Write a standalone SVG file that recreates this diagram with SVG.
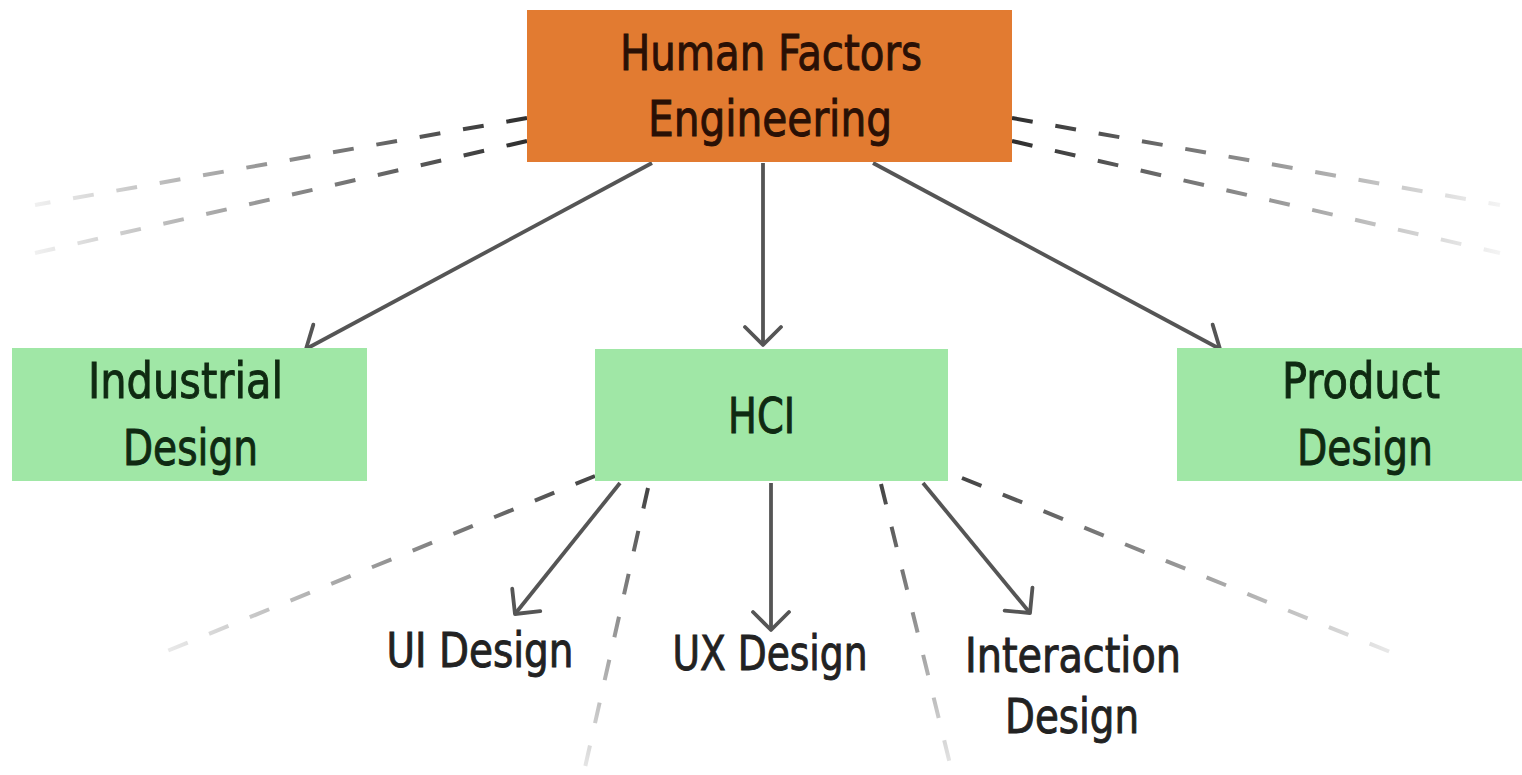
<svg xmlns="http://www.w3.org/2000/svg" width="1522" height="775" viewBox="0 0 1522 775">
  <style>
    .label { font-family: "DejaVu Sans", "Liberation Sans", sans-serif; font-stretch: condensed; font-size: 50px; text-anchor: middle; stroke-width: 0.9px; }
    .hfe { fill: #E27B31; }
    .hfe-text { fill: #2a1005; stroke: #2a1005; }
    .box { fill: #A0E7A6; }
    .box-text { fill: #0f2a12; stroke: #0f2a12; }
    .leaf-text { fill: #222222; stroke: #222222; font-size: 48px; }
    .arrow { fill: none; stroke: #555555; stroke-width: 3.8; marker-end: url(#arrowhead); }
    .dash { fill: none; stroke-width: 4; stroke-dasharray: 21 23; }
  </style>
  <defs>
    <marker id="arrowhead" viewBox="-22 -22 26 44" refX="0" refY="0" markerWidth="26" markerHeight="44" markerUnits="userSpaceOnUse" orient="auto">
      <path d="M-18,-18 L0,0 L-18,18" fill="none" stroke="#555555" stroke-width="3.8" stroke-linecap="round" stroke-linejoin="round"/>
    </marker>
    <!-- fading strokes for the dashed "related field" lines -->
    <linearGradient id="fadeTL1" gradientUnits="userSpaceOnUse" x1="527" y1="118" x2="35" y2="205">
      <stop offset="0" stop-color="#2e2e2e"/><stop offset="1" stop-color="#f0f0f0"/>
    </linearGradient>
    <linearGradient id="fadeTL2" gradientUnits="userSpaceOnUse" x1="527" y1="141" x2="35" y2="253">
      <stop offset="0" stop-color="#2e2e2e"/><stop offset="1" stop-color="#f0f0f0"/>
    </linearGradient>
    <linearGradient id="fadeTR1" gradientUnits="userSpaceOnUse" x1="1012" y1="118" x2="1500" y2="205">
      <stop offset="0" stop-color="#2e2e2e"/><stop offset="1" stop-color="#f4f4f4"/>
    </linearGradient>
    <linearGradient id="fadeTR2" gradientUnits="userSpaceOnUse" x1="1012" y1="141" x2="1500" y2="253">
      <stop offset="0" stop-color="#2e2e2e"/><stop offset="1" stop-color="#f4f4f4"/>
    </linearGradient>
    <linearGradient id="fadeBL1" gradientUnits="userSpaceOnUse" x1="595" y1="476" x2="150" y2="658">
      <stop offset="0" stop-color="#444444"/><stop offset="1" stop-color="#f0f0f0"/>
    </linearGradient>
    <linearGradient id="fadeBL2" gradientUnits="userSpaceOnUse" x1="648" y1="488" x2="584" y2="772">
      <stop offset="0" stop-color="#444444"/><stop offset="1" stop-color="#e8e8e8"/>
    </linearGradient>
    <linearGradient id="fadeBR2" gradientUnits="userSpaceOnUse" x1="881" y1="484" x2="952" y2="772">
      <stop offset="0" stop-color="#444444"/><stop offset="1" stop-color="#e8e8e8"/>
    </linearGradient>
    <linearGradient id="fadeBR1" gradientUnits="userSpaceOnUse" x1="962" y1="478" x2="1410" y2="660">
      <stop offset="0" stop-color="#444444"/><stop offset="1" stop-color="#f0f0f0"/>
    </linearGradient>
  </defs>

  <rect width="1522" height="775" fill="#ffffff"/>

  <g id="connectors">
    <!-- dashed lines toward neighbouring fields -->
    <line class="dash" x1="527" y1="118" x2="35" y2="205" stroke="url(#fadeTL1)"/>
    <line class="dash" x1="527" y1="141" x2="35" y2="253" stroke="url(#fadeTL2)"/>
    <line class="dash" x1="1012" y1="118" x2="1500" y2="205" stroke="url(#fadeTR1)"/>
    <line class="dash" x1="1012" y1="141" x2="1500" y2="253" stroke="url(#fadeTR2)"/>
    <line class="dash" x1="595" y1="476" x2="150" y2="658" stroke="url(#fadeBL1)"/>
    <line class="dash" x1="648" y1="488" x2="584" y2="772" stroke="url(#fadeBL2)"/>
    <line class="dash" x1="881" y1="484" x2="952" y2="772" stroke="url(#fadeBR2)"/>
    <line class="dash" x1="962" y1="478" x2="1410" y2="660" stroke="url(#fadeBR1)"/>
    <!-- solid hierarchy arrows -->
    <line class="arrow" x1="652" y1="163" x2="306" y2="349"/>
    <line class="arrow" x1="763" y1="163" x2="763" y2="345"/>
    <line class="arrow" x1="873" y1="163" x2="1220" y2="349"/>
    <line class="arrow" x1="620" y1="483" x2="515" y2="614"/>
    <line class="arrow" x1="771" y1="483" x2="771" y2="630"/>
    <line class="arrow" x1="923" y1="483" x2="1030" y2="613"/>
  </g>

  <g id="human-factors-engineering">
    <rect class="hfe" x="527" y="10" width="485" height="152"/>
    <text class="label hfe-text" x="771" y="70" textLength="302" lengthAdjust="spacingAndGlyphs">Human Factors</text>
    <text class="label hfe-text" x="770" y="136" textLength="244" lengthAdjust="spacingAndGlyphs">Engineering</text>
  </g>

  <g id="industrial-design">
    <rect class="box" x="12" y="348" width="355" height="133"/>
    <text class="label box-text" x="185.5" y="398" textLength="195" lengthAdjust="spacingAndGlyphs">Industrial</text>
    <text class="label box-text" x="190.5" y="465" textLength="135" lengthAdjust="spacingAndGlyphs">Design</text>
  </g>

  <g id="hci">
    <rect class="box" x="595" y="349" width="353" height="132"/>
    <text class="label box-text" x="761.5" y="433" textLength="67" lengthAdjust="spacingAndGlyphs">HCI</text>
  </g>

  <g id="product-design">
    <rect class="box" x="1177" y="348" width="345" height="133"/>
    <text class="label box-text" x="1361" y="398" textLength="158" lengthAdjust="spacingAndGlyphs">Product</text>
    <text class="label box-text" x="1365" y="465" textLength="136" lengthAdjust="spacingAndGlyphs">Design</text>
  </g>

  <g id="ui-design">
    <text class="label leaf-text" x="480" y="667" textLength="187" lengthAdjust="spacingAndGlyphs">UI Design</text>
  </g>

  <g id="ux-design">
    <text class="label leaf-text" x="770" y="670" textLength="195" lengthAdjust="spacingAndGlyphs">UX Design</text>
  </g>

  <g id="interaction-design">
    <text class="label leaf-text" x="1073" y="672" textLength="216" lengthAdjust="spacingAndGlyphs">Interaction</text>
    <text class="label leaf-text" x="1072" y="733" textLength="134" lengthAdjust="spacingAndGlyphs">Design</text>
  </g>
</svg>
